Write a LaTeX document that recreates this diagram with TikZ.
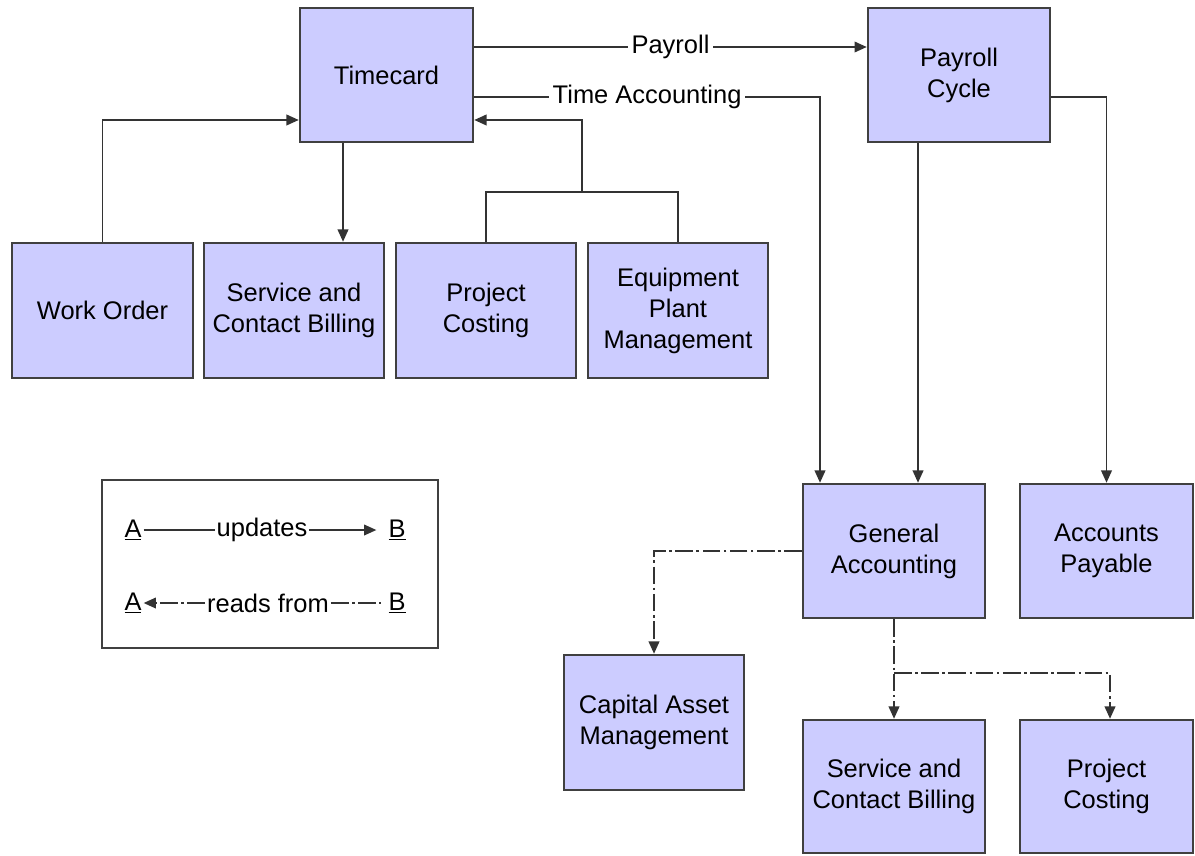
\documentclass[tikz,border=0pt]{standalone}
\usepackage{fontspec}
\setmainfont{Liberation Sans}
\usetikzlibrary{arrows.meta}
\definecolor{boxfill}{HTML}{CCCCFF}
\definecolor{boxline}{HTML}{404040}
\definecolor{conn}{HTML}{333333}
\tikzset{
  box/.style={draw=boxline, line width=1.4pt, fill=boxfill, align=center,
    minimum width=3.6cm, minimum height=2.7cm, inner sep=1pt,
    font=\fontsize{14.5}{17.6}\selectfont},
  conn/.style={draw=conn, line width=1.1pt},
  arr/.style={conn, -{Triangle[length=7pt,width=6pt]}},
  rd/.style={conn, dash pattern=on 10pt off 2pt on 1.5pt off 2pt},
  rdarr/.style={rd, -{Triangle[length=7pt,width=6pt]}},
  lbl/.style={fill=white, inner sep=2pt, font=\fontsize{14.5}{17.6}\selectfont},
  leg/.style={inner sep=1pt, font=\fontsize{14.5}{17.6}\selectfont}
}
\begin{document}
\begin{tikzpicture}[x=0.02cm,y=-0.02cm]
\useasboundingbox (0,0) rectangle (1195,855);

% boxes
\node[box, minimum width=3.46cm, minimum height=2.68cm] (tc) at (386.5,75) {Timecard};
\node[box, minimum width=3.64cm, minimum height=2.68cm] (pc) at (959,75) {Payroll\\Cycle};
\node[box, minimum width=3.62cm] (wo) at (102.5,310.5) {Work Order};
\node[box] (sv1) at (294,310.5) {Service and\\Contact Billing};
\node[box] (pj1) at (486,310.5) {Project\\Costing};
\node[box] (eq) at (678,310.5) {Equipment\\Plant\\Management};
\node[box, minimum width=3.64cm, minimum height=2.68cm] (ga) at (894,551) {General\\Accounting};
\node[box, minimum width=3.46cm, minimum height=2.68cm] (ap) at (1106.5,551) {Accounts\\Payable};
\node[box] (ca) at (654,722.5) {Capital Asset\\Management};
\node[box, minimum width=3.64cm, minimum height=2.66cm] (sv2) at (894,786.5) {Service and\\Contact Billing};
\node[box, minimum width=3.46cm, minimum height=2.66cm] (pj2) at (1106.5,786.5) {Project\\Costing};

% connectors from timecard
\draw[arr] ([yshift=0.56cm]tc.east) -- node[lbl]{Payroll} ([yshift=0.56cm]pc.west);
\coordinate (taC) at (820,97);
\draw[arr] ([yshift=-0.44cm]tc.east) -- node[lbl]{Time Accounting} (taC) -- (taC |- ga.north);
\draw[arr] (wo.north) |- ([yshift=-0.9cm]tc.west);
\draw[arr] ([xshift=-0.87cm]tc.south) -- ([xshift=-0.87cm]tc.south |- sv1.north);
\coordinate (jn) at (582,192);
\draw[conn] (pj1.north) |- (jn) -| (eq.north);
\draw[arr] (jn) |- ([yshift=-0.9cm]tc.east);

% payroll cycle
\draw[arr] ([xshift=-0.82cm]pc.south) -- ([xshift=-0.82cm]pc.south |- ga.north);
\draw[arr] ([yshift=-0.44cm]pc.east) -| (ap.north);

% general accounting reads
\draw[rdarr] (ga.west) -| (ca.north);
\coordinate (gj) at (894,673);
\draw[rdarr] (ga.south) -- (sv2.north);
\draw[rdarr] (gj) -| ([xshift=0.07cm]pj2.north);

% legend
\node[draw=boxline, line width=1.2pt, minimum width=6.72cm, minimum height=3.36cm] (legbox) at (270,564) {};
\node[leg] (la1) at (133,530) {\underline{A}};
\node[leg] (lu) at (262,530) {updates};
\node[leg] (lb1) at (397,530) {\underline{B}};
\draw[conn] (la1.east) -- (lu.west);
\draw[arr] (lu.east) -- ([xshift=-0.2cm]lb1.west);
\node[leg] (la2) at (133,603) {\underline{A}};
\node[leg] (lr) at (268,603) {reads from};
\node[leg] (lb2) at (397,603) {\underline{B}};
\draw[rdarr] (lr.west) -- (la2.east);
\draw[rd] (lr.east) -- ([xshift=-0.1cm]lb2.west);
\end{tikzpicture}
\end{document}
